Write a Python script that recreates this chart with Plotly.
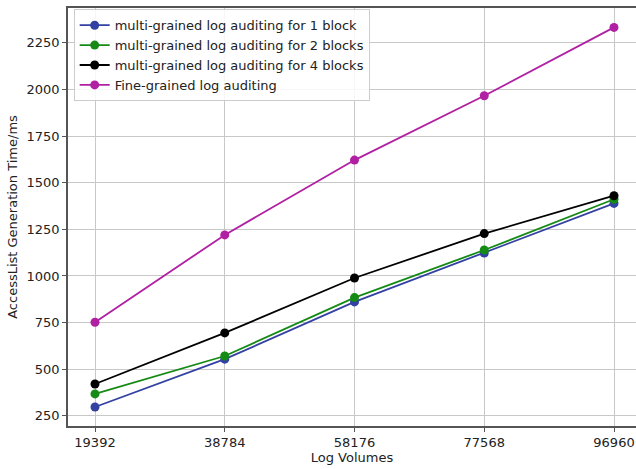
import plotly.graph_objects as go

x_vals = [19392, 38784, 58176, 77568, 96960]
x_labels = ["19392", "38784", "58176", "77568", "96960"]
one_block = [298, 554, 861, 1123, 1389]
two_blocks = [368, 571, 884, 1139, 1411]
four_blocks = [421, 695, 989, 1227, 1430]
fine_grained = [752, 1220, 1621, 1966, 2332]
y_ticks = [250, 500, 750, 1000, 1250, 1500, 1750, 2000, 2250]

series = [
    ("multi-grained log auditing for 1 block", one_block, "#3341a3"),
    ("multi-grained log auditing for 2 blocks", two_blocks, "#158a15"),
    ("multi-grained log auditing for 4 blocks", four_blocks, "#000000"),
    ("Fine-grained log auditing", fine_grained, "#b11fa3"),
]

fig = go.Figure()
for name, vals, color in series:
    fig.add_trace(go.Scatter(
        x=x_vals, y=vals, name=name, mode="lines+markers",
        line=dict(color=color, width=1.8),
        marker=dict(color=color, size=9),
    ))

axis_font = dict(family="DejaVu Sans", size=13, color="#222222")
fig.update_layout(
    width=636, height=469,
    margin=dict(l=68, r=0, t=8, b=43),
    plot_bgcolor="white", paper_bgcolor="white",
    font=dict(family="DejaVu Sans", size=13, color="#222222"),
    showlegend=True,
    legend=dict(
        x=0.01, y=0.997, xanchor="left", yanchor="top",
        bgcolor="rgba(255,255,255,0.85)", bordercolor="#cccccc", borderwidth=1,
        font=dict(family="DejaVu Sans", size=13, color="#222222"),
        tracegroupgap=0, itemwidth=30,
    ),
)
fig.update_xaxes(
    range=[15357, 100248], tickvals=x_vals, ticktext=x_labels,
    showgrid=True, gridcolor="#c8c8c8", gridwidth=1.2,
    showline=True, linecolor="#555555", linewidth=1.5, mirror=True,
    ticks="outside", ticklen=4, tickcolor="#555555",
    tickfont=axis_font, zeroline=False, automargin=False,
    title=dict(text="Log Volumes", font=axis_font, standoff=4),
)
fig.update_yaxes(
    range=[196, 2436], tickvals=y_ticks,
    showgrid=True, gridcolor="#c8c8c8", gridwidth=1.2,
    showline=True, linecolor="#555555", linewidth=1.5,
    ticks="outside", ticklen=4, tickcolor="#555555",
    tickfont=axis_font, zeroline=False, automargin=False,
    title=dict(text="AccessList Generation Time/ms", font=axis_font, standoff=6),
)
fig.write_html(
    "out.html",
    config={"displayModeBar": False},
    post_script="document.body.style.margin='0';document.body.style.overflow='hidden';",
)
